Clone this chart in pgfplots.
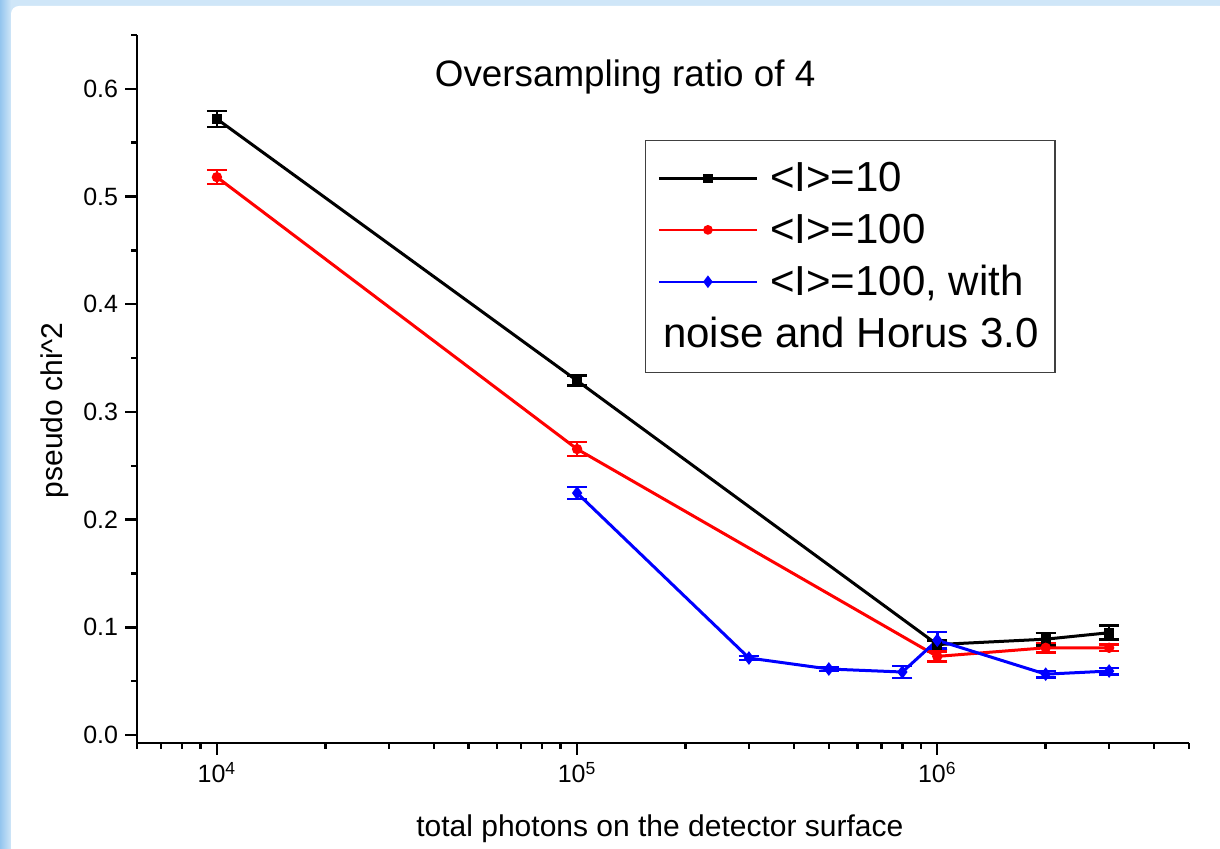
\documentclass[border=0pt]{standalone}
\usepackage{pgfplots}
\pgfplotsset{compat=1.18}
\usepackage{fontspec}
\setmainfont{Liberation Sans}
\definecolor{bgA}{HTML}{94C5EE}
\definecolor{bgB}{HTML}{CFE6F8}
\begin{document}
\begin{tikzpicture}
\useasboundingbox (0,0) rectangle (610pt,424.5pt);
\fill[bgB] (0,0) rectangle (610pt,424.5pt);
\shade[left color=bgA, right color=bgB] (0,0) rectangle (5.5pt,424.5pt);
\fill[white, rounded corners=4pt] (5.5pt,-10pt) rectangle (625pt,421.5pt);
\begin{axis}[
  at={(68.5pt,53pt)}, anchor=south west,
  scale only axis, width=526pt, height=354pt,
  xmode=log, xmin=6000, xmax=5e6, ymin=-0.0074, ymax=0.65,
  axis x line*=bottom, axis y line*=left,
  axis line style={line width=1.2pt, -},
  tick style={line width=1.2pt, black},
  tick align=outside,
  major tick length=6pt, minor tick length=3pt,
  ytick={0,0.1,0.2,0.3,0.4,0.5,0.6},
  minor ytick={0.05,0.15,0.25,0.35,0.45,0.55,0.65},
  xtick={1e4,1e5,1e6},
  xticklabels={10\textsuperscript{4},10\textsuperscript{5},10\textsuperscript{6}},
  minor xtick={6000,7000,8000,9000,20000,30000,40000,50000,60000,70000,80000,90000,2e5,3e5,4e5,5e5,6e5,7e5,8e5,9e5,2e6,3e6,4e6,5e6},
  yticklabel style={/pgf/number format/.cd, fixed, fixed zerofill, precision=1, assume math mode=true},
  ticklabel style={font=\fontsize{12.5}{15}\selectfont},
  xlabel={total photons on the detector surface},
  xlabel style={at={(axis description cs:0.497,-0.1314)}, anchor=base, font=\fontsize{15}{18}\selectfont},
  ylabel={pseudo chi\^{}2},
  ylabel style={at={(axis description cs:-0.078,0.47)}, anchor=center, rotate=0, font=\fontsize{15}{18}\selectfont},
  legend style={at={(0.483,0.852)}, anchor=north west, draw=black!75, line width=0.6pt,
    font=\fontsize{21}{25}\selectfont, inner xsep=6pt, inner ysep=9pt, row sep=5.5pt, column sep=4pt},
  legend cell align=left,
  legend image code/.code={\draw[mark repeat=2, mark phase=2, line width=1.2pt, #1] plot coordinates {(0pt,0pt) (24.5pt,0pt) (49pt,0pt)};},
  every axis plot/.append style={line width=1.5pt},
  error bars/error bar style={line width=1.3pt},
  error bars/error mark options={rotate=90, mark size=5pt, line width=1.3pt},
]
\addplot[black, mark=square*, mark size=1.8pt, error bars/.cd, y dir=both, y explicit]
  coordinates {(1e4,0.572) +- (0,0.0075) (1e5,0.329) +- (0,0.0046) (1e6,0.084) +- (0,0.004) (2e6,0.089) +- (0,0.0056) (3e6,0.095) +- (0,0.0065)};
\addlegendentry{<I>=10}
\addplot[red, mark=*, mark size=1.8pt, error bars/.cd, y dir=both, y explicit]
  coordinates {(1e4,0.518) +- (0,0.0065) (1e5,0.2655) +- (0,0.0065) (1e6,0.073) +- (0,0.0045) (2e6,0.081) +- (0,0.0046) (3e6,0.081) +- (0,0.003)};
\addlegendentry{<I>=100}
\addplot[blue, mark=diamond*, mark size=2.2pt, error bars/.cd, y dir=both, y explicit]
  coordinates {(1e5,0.2247) +- (0,0.0056) (3e5,0.0715) +- (0,0.002) (5e5,0.0613) +- (0,0.002) (8e5,0.0585) +- (0,0.0055) (1e6,0.088) +- (0,0.0075) (2e6,0.0565) +- (0,0.003) (3e6,0.0594) +- (0,0.003)};
\addlegendentry{<I>=100, with}
\addlegendimage{opacity=0}
\addlegendentry{\hspace*{-53.5pt}noise and Horus 3.0}
\node[anchor=base, font=\fontsize{18.4}{22}\selectfont] at (axis description cs:0.464,0.9266) {Oversampling ratio of 4};
\end{axis}
\end{tikzpicture}
\end{document}
